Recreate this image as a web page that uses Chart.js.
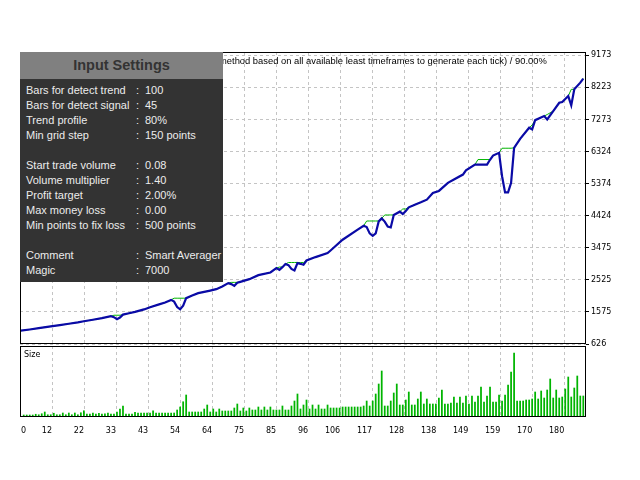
<!DOCTYPE html>
<html>
<head>
    <title>Smart Averager - Tester Graph</title>
    <script src="https://cdn.jsdelivr.net/npm/chart.js@4.4.0/dist/chart.umd.min.js"></script>
    <style>
        body {
            margin: 0;
            width: 640px;
            height: 480px;
            overflow: hidden;
            position: relative;
            background-color: #ffffff;
            font-family: 'Liberation Sans', Arial, sans-serif;
        }
        canvas {
            position: absolute;
            left: 0;
        }
        #sizeChart { top: 330px; }
        #balanceChart { top: 0; }
        .test-title {
            position: absolute;
            left: 219px;
            top: 54px;
            font-size: 9.4px;
            line-height: 13px;
            color: #000;
            white-space: nowrap;
        }
        .size-label {
            position: absolute;
            left: 24px;
            top: 349px;
            font-family: 'DejaVu Sans', sans-serif;
            font-size: 8px;
            line-height: 12px;
            color: #000;
        }
        .settings {
            position: absolute;
            left: 20px;
            top: 52px;
            width: 203px;
            height: 230px;
            background-color: #333333;
        }
        .settings .head {
            height: 27px;
            line-height: 27px;
            background-color: #808080;
            color: #333333;
            font-weight: bold;
            font-size: 14.5px;
            text-align: center;
        }
        .settings .body {
            padding-top: 3.5px;
        }
        .row {
            position: relative;
            height: 15px;
            line-height: 15px;
            font-size: 11px;
            color: #ececec;
            white-space: nowrap;
        }
        .row span { position: absolute; top: 0; }
        .row .k { left: 6px; }
        .row .c { left: 116px; }
        .row .v { left: 125px; }
    </style>
</head>
<body>
    <canvas id="sizeChart" width="640" height="110"></canvas>
    <canvas id="balanceChart" width="640" height="360"></canvas>
    <div class="test-title">method based on all available least timeframes to generate each tick) / 90.00%</div>
    <div class="size-label">Size</div>
    <div class="settings">
        <div class="head">Input Settings</div>
        <div class="body" id="settingsBody"></div>
    </div>

    <script>
        // trade number -> equity (blue) and balance (green)
        const trades = [0,3,6,10,13,16,19,21,24,27,30,31,32,33,34,36,38,41,43,46,
            48,50,51,52,53,54,55,57,59,61,63,65,67,69,70,71,72,73,76,79,
            83,85,86,87,88,89,90,91,92,93,94,95,98,102,103,107,112,114,115,116,
            117,118,119,120,121,122,123,124,126,127,128,129,131,133,135,137,139,142,144,147,
            148,151,152,155,156,157,159,160,161,162,163,164,166,169,170,171,174,175,177,179,
            180,182,183,184,186,187];
        const equity = [1021,1055,1095,1150,1185,1225,1265,1300,1345,1390,1448,1420,1360,1410,1496,1535,1576,1650,1715,1800,
            1852,1932,1880,1720,1656,1760,1982,2060,2131,2170,2208,2250,2330,2428,2400,2348,2440,2466,2546,2665,
            2744,2873,2820,2900,2992,2960,2850,2802,3021,3000,2971,3098,3199,3318,3395,3713,4010,4128,4090,3900,
            3831,3900,4256,4345,4250,4100,4078,4446,4544,4476,4560,4672,4751,4820,4900,5099,5158,5396,5494,5642,
            5770,5939,5939,5939,6080,6206,6285,5593,5116,5116,5396,6434,6701,7028,6978,7254,7373,7274,7521,7767,
            7790,7966,7690,8165,8364,8483];
        const balance = [1021,1055,1095,1150,1185,1225,1265,1300,1345,1390,1448,1478,1478,1478,1496,1535,1576,1650,1715,1800,
            1852,1932,1982,1982,1982,1982,1982,2060,2131,2170,2208,2250,2330,2428,2450,2450,2450,2466,2546,2665,
            2744,2873,2905,2905,2992,3039,3039,3039,3039,3039,3039,3098,3199,3318,3395,3713,4010,4128,4268,4268,
            4268,4268,4268,4345,4446,4446,4446,4446,4544,4624,4624,4672,4751,4820,4900,5099,5158,5396,5494,5642,
            5770,5939,6087,6087,6087,6206,6285,6422,6422,6422,6422,6434,6701,7028,7110,7254,7373,7420,7521,7767,
            7790,7966,8165,8165,8364,8483];

        // lot size of trades 1..187
        const sizes = [0.08,0.08,0.08,0.08,0.11,0.09,0.13,0.20,0.09,0.09,
            0.15,0.09,0.09,0.16,0.09,0.16,0.09,0.16,0.09,0.17,
            0.25,0.12,0.12,0.16,0.12,0.15,0.12,0.13,0.16,0.12,
            0.12,0.20,0.32,0.44,0.12,0.12,0.12,0.19,0.16,0.16,
            0.16,0.16,0.16,0.25,0.16,0.16,0.16,0.16,0.16,0.16,
            0.16,0.28,0.40,0.61,0.88,0.20,0.20,0.20,0.20,0.20,0.32,
            0.48,0.20,0.32,0.20,0.32,0.24,0.24,0.24,0.24,0.36,
            0.52,0.24,0.36,0.24,0.36,0.28,0.28,0.40,0.28,0.40,
            0.28,0.40,0.28,0.28,0.28,0.44,0.28,0.28,0.44,0.64,
            0.92,0.32,0.48,0.68,0.32,0.48,0.32,0.48,0.32,0.32,
            0.48,0.36,0.36,0.36,0.36,0.40,0.40,0.40,0.40,0.40,
            0.40,0.40,0.44,0.64,0.44,0.64,0.92,1.32,1.84,0.44,
            0.44,0.64,0.96,
            1.32,0.48,0.48,0.68,1.00,0.48,0.48,0.72,1.00,0.52,
            0.72,0.52,0.52,0.52,0.76,1.08,0.52,0.52,0.56,0.80,
            0.56,0.80,0.56,0.84,0.52,0.84,0.60,0.84,1.20,0.60,
            0.84,1.20,0.60,0.60,0.88,0.64,0.88,1.28,1.80,2.56,
            0.64,0.64,0.64,0.68,0.68,0.72,1.00,0.72,1.04,0.76,
            1.08,1.52,0.76,1.08,0.76,0.80,1.12,1.60,0.80,1.16,
            1.64,0.84,0.84];

        const yTicks = [626, 1575, 2525, 3475, 4424, 5374, 6324, 7273, 8223, 9173];
        const xTickLabels = ['0','12','22','33','43','54','64','75','85','96','106','117','128','138','149','159','170','180'];

        const settingKeys = ['Bars for detect trend', 'Bars for detect signal', 'Trend profile', 'Min grid step', '',
            'Start trade volume', 'Volume multiplier', 'Profit target', 'Max money loss', 'Min points to fix loss', '',
            'Comment', 'Magic'];
        const settingValues = ['100', '45', '80%', '150 points', '',
            '0.08', '1.40', '2.00%', '0.00', '500 points', '',
            'Smart Averager', '7000'];

        // settings panel
        const body = document.getElementById('settingsBody');
        settingKeys.forEach((k, i) => {
            const row = document.createElement('div');
            row.className = 'row';
            if (k) {
                row.innerHTML = '<span class="k">' + k + '</span><span class="c">:</span><span class="v">' + settingValues[i] + '</span>';
            }
            body.appendChild(row);
        });

        // shared x range, grid every 32px
        const xMin = -0.23, xMax = 187.9;
        const gridStep = 10.642;
        const gridPos = xTickLabels.map((_, k) => xMin + k * gridStep);
        const labelPos = gridPos.map((v, k) => k === 0 ? xMin + 2 : v);

        const axisFont = { family: 'DejaVu Sans', size: 8 };
        const gridColor = '#c4c4c4';

        const framePlugin = {
            id: 'frame',
            afterDraw(chart) {
                const a = chart.chartArea;
                const ctx = chart.ctx;
                ctx.save();
                ctx.strokeStyle = '#000';
                ctx.lineWidth = 1;
                ctx.strokeRect(Math.round(a.left) + 0.5, Math.round(a.top) + 0.5,
                    Math.round(a.right - a.left) - 1, Math.round(a.bottom - a.top) - 1);
                ctx.restore();
            }
        };

        new Chart(document.getElementById('balanceChart'), {
            type: 'line',
            data: {
                datasets: [{
                    label: 'Equity',
                    data: trades.map((t, i) => ({ x: t, y: equity[i] })),
                    borderColor: '#0a0aa6',
                    borderWidth: 2.2,
                    pointRadius: 0,
                    tension: 0,
                    order: 0
                }, {
                    label: 'Balance',
                    data: trades.map((t, i) => ({ x: t, y: balance[i] })),
                    borderColor: '#00b400',
                    borderWidth: 1,
                    pointRadius: 0,
                    tension: 0,
                    order: 1
                }]
            },
            options: {
                responsive: false,
                animation: false,
                layout: { padding: { left: 20, top: 52, bottom: 16, right: 0 } },
                plugins: { legend: { display: false }, tooltip: { enabled: false } },
                scales: {
                    x: {
                        type: 'linear',
                        min: xMin,
                        max: xMax,
                        offset: false,
                        afterBuildTicks: s => { s.ticks = gridPos.map(v => ({ value: v })); },
                        afterFit: s => { s.height = 0; },
                        ticks: { display: false },
                        grid: { color: gridColor, drawTicks: false },
                        border: { display: false, dash: [3, 3] }
                    },
                    y: {
                        position: 'right',
                        min: 626,
                        max: 9271,
                        afterBuildTicks: s => { s.ticks = yTicks.map(v => ({ value: v })); },
                        afterFit: s => { s.width = 54; },
                        ticks: {
                            font: axisFont,
                            color: '#000',
                            padding: 2,
                            callback: (v, i) => String(yTicks[i])
                        },
                        grid: { color: gridColor, tickColor: '#000', tickLength: 3, tickBorderDash: [] },
                        border: { display: false, dash: [3, 3] }
                    }
                }
            },
            plugins: [framePlugin]
        });

        new Chart(document.getElementById('sizeChart'), {
            type: 'bar',
            data: {
                datasets: [{
                    label: 'Size',
                    data: sizes.map((v, i) => ({ x: i + 1, y: v })),
                    backgroundColor: '#00b400',
                    barThickness: 1.1
                }]
            },
            options: {
                responsive: false,
                animation: false,
                layout: { padding: { left: 20, top: 16, bottom: 0, right: 54 } },
                plugins: { legend: { display: false }, tooltip: { enabled: false } },
                scales: {
                    x: {
                        type: 'linear',
                        min: xMin,
                        max: xMax,
                        offset: false,
                        afterBuildTicks: s => { s.ticks = gridPos.map(v => ({ value: v })); },
                        afterFit: s => { s.height = 0; },
                        ticks: { display: false },
                        grid: { color: gridColor, drawTicks: false, offset: false },
                        border: { display: false, dash: [3, 3] }
                    },
                    xl: {
                        type: 'linear',
                        position: 'bottom',
                        min: xMin,
                        max: xMax,
                        offset: false,
                        afterBuildTicks: s => { s.ticks = labelPos.map(v => ({ value: v })); },
                        afterFit: s => { s.height = 23; },
                        ticks: {
                            font: axisFont,
                            color: '#000',
                            align: 'end',
                            padding: 1,
                            autoSkip: false,
                            maxRotation: 0,
                            callback: (v, i) => xTickLabels[i]
                        },
                        grid: { display: false, offset: false },
                        border: { display: false }
                    },
                    y: { display: false, min: 0, max: 2.84 }
                }
            },
            plugins: [framePlugin]
        });
    </script>
</body>
</html>
